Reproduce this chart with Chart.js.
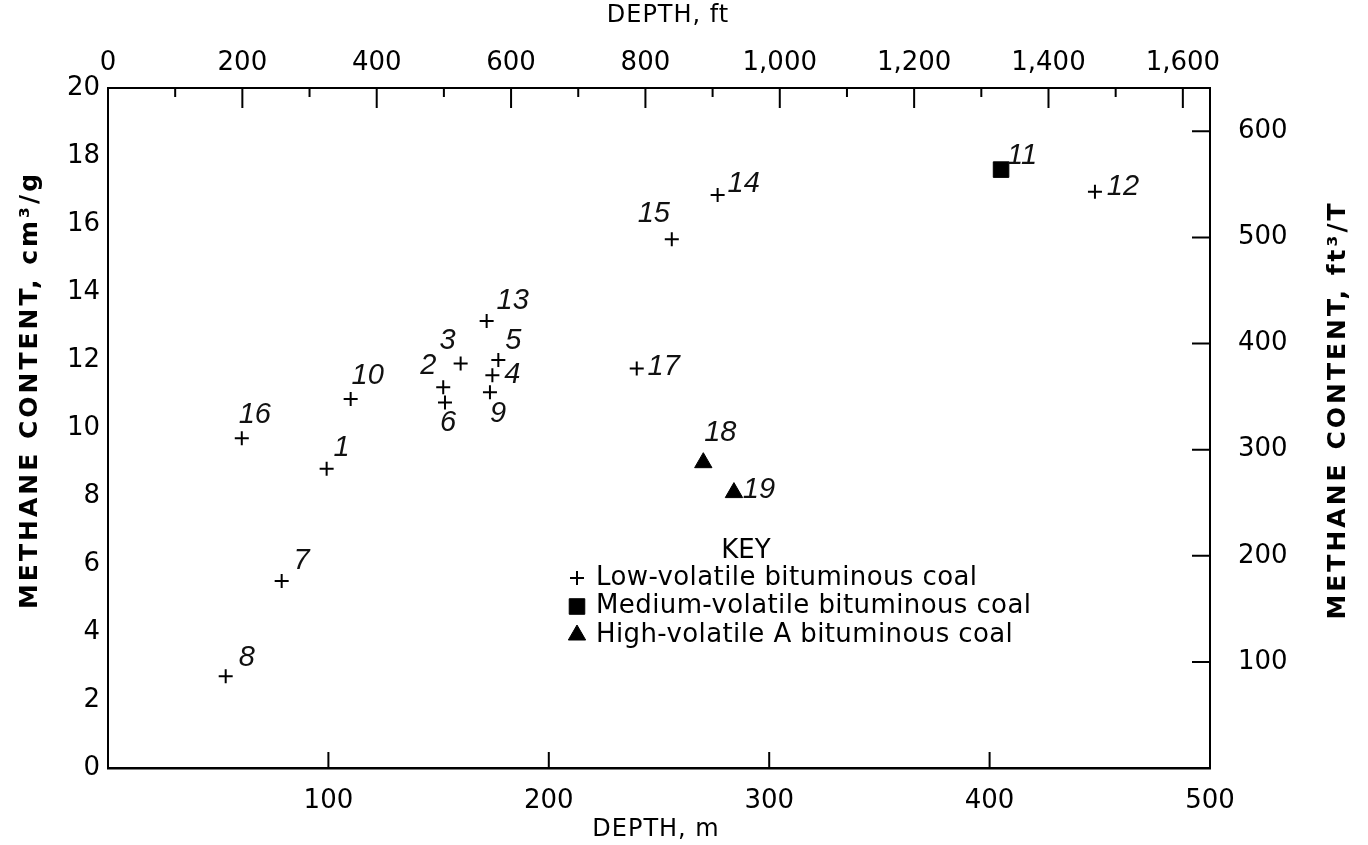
<!DOCTYPE html>
<html>
<head>
<meta charset="utf-8">
<title>Methane content vs depth</title>
<script src="https://cdn.jsdelivr.net/npm/chart.js@4.4.0/dist/chart.umd.min.js"></script>
<style>
  html, body { margin: 0; padding: 0; background: #fff; }
  #wrap { width: 1368px; height: 845px; }
</style>
</head>
<body>
<div id="wrap"><canvas id="methaneChart"></canvas></div>
<script>
// Sample data: depth (m) and methane content (cm3/g), one group per coal rank
const lowVolIds = ['1', '2', '3', '4', '5', '6', '7', '8', '9', '10', '12', '13', '14', '15', '16', '17'];
const lowVolDepth = [99.2, 152.1, 160.0, 174.4, 177.1, 152.9, 78.8, 53.4, 173.3, 110.1, 447.8, 171.8, 276.6, 255.8, 60.7, 239.9];
const lowVolMethane = [8.8, 11.2, 11.9, 11.55, 12.0, 10.75, 5.5, 2.7, 11.05, 10.85, 16.95, 13.15, 16.85, 15.55, 9.7, 11.75];

const medVolIds = ['11'];
const medVolDepth = [405.2];
const medVolMethane = [17.6];

const highVolIds = ['18', '19'];
const highVolDepth = [270.1, 284.0];
const highVolMethane = [8.98, 8.1];

// Axis ticks
const depthTicksM = [100, 200, 300, 400, 500];
const methaneTicks = [0, 2, 4, 6, 8, 10, 12, 14, 16, 18, 20];
const depthTicksFt = [0, 100, 200, 300, 400, 500, 600, 700, 800, 900, 1000, 1100, 1200, 1300, 1400, 1500, 1600];
const methaneTicksFt = [100, 200, 300, 400, 500, 600];

const legendLabels = ['Low-volatile bituminous coal', 'Medium-volatile bituminous coal', 'High-volatile A bituminous coal'];

const FT_PER_M = 1 / 0.3048;
const FT3T_PER_CM3G = 32.04;
const FONT = "'DejaVu Sans', 'Liberation Sans', sans-serif";
const NUM_FONT = "'Liberation Sans', 'DejaVu Sans', sans-serif";

// where each sample number sits relative to its marker (px)
const labelOffsets = {
  '1': [15, -21], '2': [-15, -21], '3': [-13, -22], '4': [20, 0], '5': [15, -19],
  '6': [3, 20], '7': [20, -20], '8': [21, -18], '9': [8, 22], '10': [17, -23],
  '11': [21, -14], '12': [28, -5], '13': [26, -20], '14': [26, -11], '15': [-18, -25],
  '16': [13, -23], '17': [27, -2], '18': [17, -30], '19': [25, -3]
};

const toPoints = (xs, ys) => xs.map((x, i) => ({ x: x, y: ys[i] }));

const fixTicks = values => scale => { scale.ticks = values.map(v => ({ value: v })); };

const pointLabels = {
  id: 'pointLabels',
  afterDatasetsDraw(chart) {
    const ctx = chart.ctx;
    ctx.save();
    ctx.font = 'italic 29px ' + NUM_FONT;
    ctx.fillStyle = '#111';
    ctx.textAlign = 'center';
    ctx.textBaseline = 'middle';
    chart.data.datasets.forEach((ds, di) => {
      chart.getDatasetMeta(di).data.forEach((pt, i) => {
        const id = ds.ids[i];
        const off = labelOffsets[id] || [15, -15];
        ctx.fillText(id, pt.x + off[0], pt.y + off[1]);
      });
    });
    ctx.restore();
  }
};

const inwardTicks = {
  id: 'inwardTicks',
  afterDraw(chart) {
    const { ctx, chartArea: a, scales } = chart;
    ctx.save();
    ctx.strokeStyle = '#000';
    ctx.lineWidth = 2;
    ctx.beginPath();
    depthTicksM.forEach(v => {
      if (v >= 500) return;
      const x = scales.x.getPixelForValue(v);
      ctx.moveTo(x, a.bottom);
      ctx.lineTo(x, a.bottom - 16);
    });
    depthTicksFt.forEach(v => {
      if (v === 0) return;
      const x = scales.xFt.getPixelForValue(v);
      ctx.moveTo(x, a.top);
      ctx.lineTo(x, a.top + (v % 200 === 0 ? 20 : 9));
    });
    methaneTicksFt.forEach(v => {
      const y = scales.yFt.getPixelForValue(v);
      ctx.moveTo(a.right, y);
      ctx.lineTo(a.right - 18, y);
    });
    ctx.stroke();

    // axis titles
    ctx.fillStyle = '#000';
    ctx.textAlign = 'center';
    ctx.textBaseline = 'middle';
    ctx.font = '24px ' + FONT;
    ctx.letterSpacing = '1px';
    ctx.fillText('DEPTH, m', 656, 830);
    ctx.fillText('DEPTH, ft', 668, 16);
    ctx.font = 'bold 25px ' + FONT;
    ctx.letterSpacing = '3px';
    ctx.save();
    ctx.translate(30, 390);
    ctx.rotate(-Math.PI / 2);
    ctx.fillText('METHANE CONTENT, cm\u00B3/g', 0, 0);
    ctx.restore();
    ctx.save();
    ctx.translate(1338, 410);
    ctx.rotate(-Math.PI / 2);
    ctx.fillText('METHANE CONTENT, ft\u00B3/T', 0, 0);
    ctx.restore();
    ctx.restore();
  }
};

const keyBox = {
  id: 'keyBox',
  afterDraw(chart) {
    const ctx = chart.ctx;
    ctx.save();
    ctx.fillStyle = '#000';
    ctx.strokeStyle = '#000';
    ctx.textBaseline = 'middle';
    ctx.font = '26px ' + FONT;
    ctx.textAlign = 'center';
    ctx.fillText('KEY', 746, 551);
    ctx.textAlign = 'left';
    ctx.letterSpacing = '0.4px';
    chart.data.datasets.forEach((ds, i) => {
      const y = 578 + i * 28.5;
      ctx.lineWidth = ds.borderWidth;
      Chart.helpers.drawPoint(ctx, {
        pointStyle: ds.pointStyle,
        radius: ds.pointRadius,
        borderWidth: ds.borderWidth
      }, 577, y);
      ctx.fillText(legendLabels[i], 596, y);
    });
    ctx.restore();
  }
};

const tickFont = { family: FONT, size: 26 };

const ctx = document.getElementById('methaneChart').getContext('2d');
const chart = new Chart(ctx, {
  type: 'scatter',
  data: {
    datasets: [
      {
        label: legendLabels[0],
        ids: lowVolIds,
        data: toPoints(lowVolDepth, lowVolMethane),
        pointStyle: 'cross',
        pointRadius: 7,
        borderWidth: 2,
        borderColor: '#000',
        backgroundColor: '#000'
      },
      {
        label: legendLabels[1],
        ids: medVolIds,
        data: toPoints(medVolDepth, medVolMethane),
        pointStyle: 'rect',
        pointRadius: 11,
        borderWidth: 1,
        borderColor: '#000',
        backgroundColor: '#000'
      },
      {
        label: legendLabels[2],
        ids: highVolIds,
        data: toPoints(highVolDepth, highVolMethane),
        pointStyle: 'triangle',
        pointRadius: 10,
        borderWidth: 1,
        borderColor: '#000',
        backgroundColor: '#000'
      }
    ]
  },
  options: {
    responsive: true,
    maintainAspectRatio: false,
    animation: false,
    layout: { padding: 0 },
    plugins: {
      legend: { display: false },
      tooltip: { enabled: false }
    },
    scales: {
      x: {
        type: 'linear',
        position: 'bottom',
        min: 0,
        max: 500,
        afterBuildTicks: fixTicks(depthTicksM),
        afterFit: s => { s.height = 77; },
        grid: { display: false, drawTicks: false },
        border: { display: true, color: '#000', width: 2.5 },
        ticks: { color: '#000', padding: 18, maxRotation: 0, font: tickFont }
      },
      xFt: {
        type: 'linear',
        position: 'top',
        min: 0,
        max: 500 * FT_PER_M,
        afterBuildTicks: fixTicks(depthTicksFt),
        afterFit: s => { s.height = 88; },
        grid: { display: false, drawTicks: false },
        border: { display: true, color: '#000', width: 2 },
        ticks: {
          color: '#000', padding: 9, maxRotation: 0, autoSkip: false,
          font: tickFont,
          callback: v => (v % 200 === 0 ? v.toLocaleString('en-US') : '')
        }
      },
      y: {
        type: 'linear',
        position: 'left',
        min: 0,
        max: 20,
        afterBuildTicks: fixTicks(methaneTicks),
        afterFit: s => { s.width = 108; },
        grid: { display: false, drawTicks: false },
        border: { display: true, color: '#000', width: 2 },
        ticks: { color: '#000', padding: 8, font: tickFont }
      },
      yFt: {
        type: 'linear',
        position: 'right',
        min: 0,
        max: 20 * FT3T_PER_CM3G,
        afterBuildTicks: fixTicks(methaneTicksFt),
        afterFit: s => { s.width = 158; },
        grid: { display: false, drawTicks: false },
        border: { display: true, color: '#000', width: 2 },
        ticks: { color: '#000', padding: 28, font: tickFont }
      }
    }
  },
  plugins: [pointLabels, inwardTicks, keyBox]
});
</script>
</body>
</html>
